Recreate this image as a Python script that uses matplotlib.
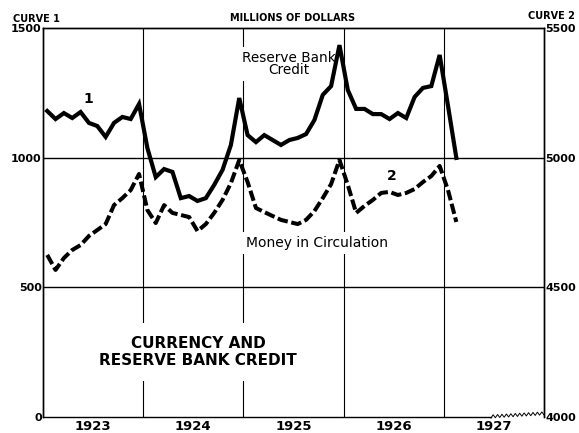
import matplotlib
matplotlib.use("Agg")
import matplotlib.pyplot as plt
import numpy as np

# monthly values, Jan 1923 - Feb 1927
reserve_credit = [1180, 1149, 1172, 1153, 1176, 1134, 1122, 1080, 1134, 1157, 1149, 1207,
                  1037, 925, 956, 945, 844, 852, 833, 844, 895, 953, 1049, 1230,
                  1087, 1060, 1087, 1068, 1049, 1068, 1076, 1091, 1145, 1242, 1276, 1434,
                  1261, 1188, 1188, 1168, 1168, 1149, 1172, 1153, 1234, 1269, 1276, 1396,
                  1200, 999]
money_circ = [4625, 4567, 4613, 4644, 4663, 4698, 4721, 4744, 4817, 4844, 4875, 4937,
              4798, 4748, 4817, 4787, 4779, 4771, 4717, 4744, 4787, 4837, 4902, 4991,
              4906, 4806, 4790, 4775, 4760, 4752, 4744, 4760, 4794, 4844, 4898, 4991,
              4895, 4787, 4814, 4837, 4864, 4868, 4856, 4864, 4879, 4906, 4929, 4968,
              4875, 4752]
years = ["1923", "1924", "1925", "1926", "1927"]
left_ticks = [0, 500, 1000, 1500]
right_ticks = [4000, 4500, 5000, 5500]

x = 1923 + (np.arange(len(reserve_credit)) + 0.5) / 12

fig = plt.figure(figsize=(5.79, 4.33), dpi=100)
ax = fig.add_axes([0.0743, 0.037, 0.8653, 0.8983])
ax.set_xlim(1923, 1928)
ax.set_ylim(0, 1500)

# grid
for yr in range(1924, 1928):
    ax.axvline(yr, color="black", lw=0.8, zorder=1)
for v in left_ticks[1:3]:
    ax.axhline(v, color="black", lw=1.0, zorder=1)

ax.plot(x, reserve_credit, color="black", lw=3.0, solid_joinstyle="miter", zorder=4)

ax2 = ax.twinx()
ax2.set_ylim(4000, 5500)
ax2.plot(x, money_circ, color="black", lw=2.9, dashes=(2.6, 0.9), zorder=4)

# axes styling
for a in (ax, ax2):
    for s in a.spines.values():
        s.set_linewidth(1.0)
ax.spines["bottom"].set_bounds(1923, 1927.47)
ax2.spines["bottom"].set_visible(False)

ax.set_yticks(left_ticks)
ax.set_yticklabels([str(t) for t in left_ticks], fontsize=8, fontweight="bold")
ax2.set_yticks(right_ticks)
ax2.set_yticklabels([str(t) for t in right_ticks], fontsize=8, fontweight="bold")
ax.tick_params(axis="y", length=0, pad=1)
ax2.tick_params(axis="y", length=0, pad=1)
ax.set_xticks([int(y) + 0.5 for y in years])
ax.set_xticklabels(years, fontsize=9.5, fontweight="bold")
ax.tick_params(axis="x", length=0, pad=2)

# broken-axis squiggle at the lower right
zx = np.linspace(1927.47, 1928, 25)
zy = np.linspace(2, 14, 25) + np.where(np.arange(25) % 2 == 0, -6, 6)
ax.plot(zx, zy, color="black", lw=0.7, clip_on=False, zorder=5)

# labels
fig.text(0.022, 0.955, "CURVE 1", fontsize=7, fontweight="bold", va="center")
fig.text(0.505, 0.958, "MILLIONS OF DOLLARS", fontsize=7, fontweight="bold",
         ha="center", va="center")
fig.text(0.993, 0.963, "CURVE 2", fontsize=7, fontweight="bold", ha="right", va="center")

ax.text(1923.45, 1225, "1", fontsize=10, fontweight="bold", ha="center", va="center")
ax.text(1926.48, 930, "2", fontsize=10, fontweight="bold", ha="center", va="center", zorder=3)
ax.text(1925.45, 1360, "Reserve Bank\nCredit", fontsize=9.8, ha="center", va="center",
        linespacing=0.8, bbox=dict(facecolor="white", edgecolor="none", pad=3), zorder=2)
ax.text(1925.73, 672, "Money in Circulation", fontsize=10, ha="center", va="center",
        bbox=dict(facecolor="white", edgecolor="none", pad=3), zorder=2)
ax.text(1924.55, 250, "CURRENCY AND\nRESERVE BANK CREDIT", fontsize=11, fontweight="bold",
        ha="center", va="center", linespacing=1.2,
        bbox=dict(facecolor="white", edgecolor="none", pad=9), zorder=2)

fig.savefig("out.png", dpi=100)
